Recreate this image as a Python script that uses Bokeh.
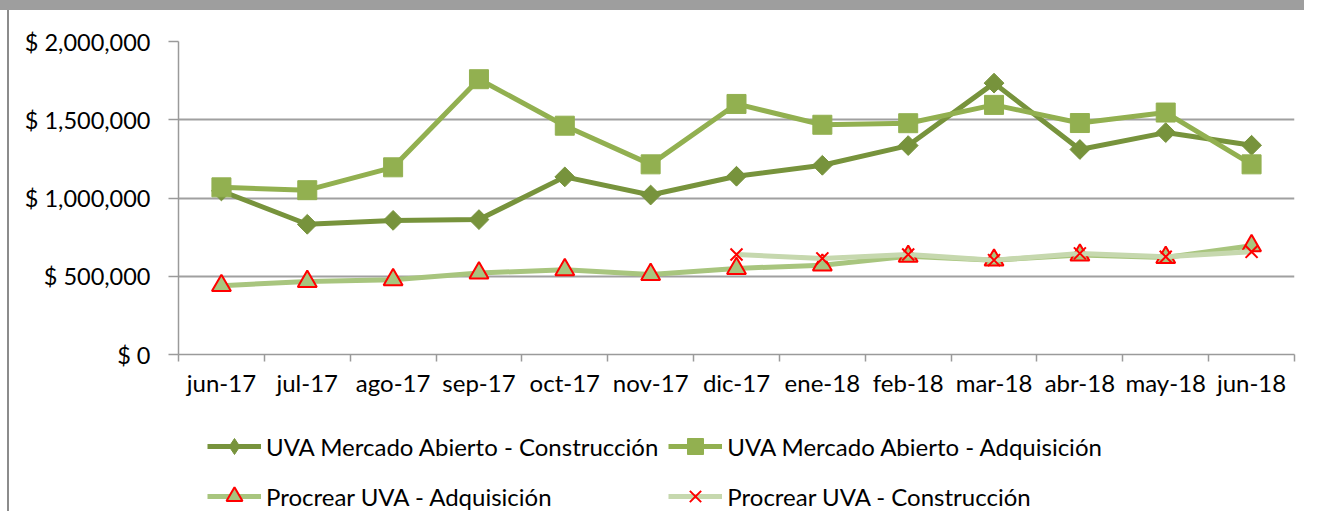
import numpy as np
from bokeh.plotting import figure
from bokeh.layouts import column, row
from bokeh.models import (ColumnDataSource, FixedTicker, Range1d, Legend, LegendItem,
                          Spacer)
from bokeh.embed import file_html
from bokeh.resources import INLINE

# ---- data ----
months = ["jun-17", "jul-17", "ago-17", "sep-17", "oct-17", "nov-17", "dic-17",
          "ene-18", "feb-18", "mar-18", "abr-18", "may-18", "jun-18"]
mercado_construccion = [1045000, 832000, 857000, 862000, 1135000, 1019000, 1139000,
                        1209000, 1335000, 1734000, 1310000, 1418000, 1337000]
mercado_adquisicion = [1068000, 1050000, 1196000, 1759000, 1462000, 1215000, 1601000,
                       1468000, 1478000, 1595000, 1479000, 1546000, 1215000]
procrear_adquisicion = [440000, 467000, 478000, 521000, 541000, 511000, 550000,
                        571000, 627000, 603000, 635000, 620000, 695000]
procrear_construccion = [np.nan, np.nan, np.nan, np.nan, np.nan, np.nan, 639000,
                         614000, 639000, 603000, 646000, 625000, 656000]
series_names = ["UVA Mercado Abierto - Construcción",
                "UVA Mercado Abierto - Adquisición",
                "Procrear UVA - Adquisición",
                "Procrear UVA - Construcción"]
y_ticks = [0, 500000, 1000000, 1500000, 2000000]
y_tick_labels = ["$ 0", "$ 500,000", "$ 1,000,000", "$ 1,500,000", "$ 2,000,000"]

x = list(range(len(months)))
src = ColumnDataSource(dict(
    x=x,
    mc=mercado_construccion,
    ma=mercado_adquisicion,
    pa=procrear_adquisicion,
    pc=np.array(procrear_construccion, dtype=float),
))

FONT = "Lato"
FS = "24px"

c_mc = "#77933C"
c_ma = "#92B050"
c_pa = "#A8C57E"
c_pc = "#C6D8AE"
RED = "#FF0000"


def add_series(fig, legend_style=False):
    l1 = fig.line("x", "mc", source=src, line_color=c_mc, line_width=5)
    if legend_style:
        s1 = fig.scatter("x", "mc", source=src, marker="diamond", size=20,
                         fill_color=c_mc, line_color=c_mc)
    else:
        s1 = fig.scatter("x", "mc", source=src, marker="square", angle=np.pi / 4,
                         size=14, fill_color=c_mc, line_color=c_mc)
    l2 = fig.line("x", "ma", source=src, line_color=c_ma, line_width=5)
    s2 = fig.scatter("x", "ma", source=src, marker="square", size=19,
                     fill_color=c_ma, line_color=c_ma)
    l3 = fig.line("x", "pa", source=src, line_color=c_pa, line_width=5)
    s3 = fig.scatter("x", "pa", source=src, marker="triangle", size=19,
                     fill_color=c_pa, line_color=RED, line_width=2)
    l4 = fig.line("x", "pc", source=src, line_color=c_pc, line_width=5)
    s4 = fig.scatter("x", "pc", source=src, marker="x", size=17,
                     line_color=RED, line_width=2)
    return [(l1, s1), (l2, s2), (l3, s3), (l4, s4)]


W = 1295
MAIN_H = 389
p = figure(width=W, height=MAIN_H, output_backend="svg", toolbar_location=None,
           x_range=Range1d(-0.5, len(months) - 0.5), y_range=Range1d(0, 2000000),
           min_border_left=169, min_border_right=10, min_border_top=31,
           min_border_bottom=42)
p.outline_line_color = None
p.background_fill_color = "white"
p.border_fill_color = "white"

p.xaxis.ticker = FixedTicker(ticks=x, minor_ticks=[i - 0.5 for i in range(len(months) + 1)])
p.xaxis.major_label_overrides = {i: m for i, m in enumerate(months)}
p.xaxis.major_tick_out = 0
p.xaxis.major_tick_in = 0
p.xaxis.minor_tick_out = 7
p.xaxis.minor_tick_in = 0
p.xaxis.minor_tick_line_color = "#9a9a9a"
p.xaxis.minor_tick_line_width = 1.5
p.xaxis.major_label_standoff = 6

p.yaxis.ticker = FixedTicker(ticks=y_ticks, minor_ticks=[])
p.yaxis.major_label_overrides = dict(zip(y_ticks, y_tick_labels))
p.yaxis.major_tick_out = 10
p.yaxis.major_tick_in = 0
p.yaxis.major_tick_line_color = "#9a9a9a"
p.yaxis.major_tick_line_width = 1.5
p.yaxis.minor_tick_out = 0
p.yaxis.major_label_standoff = 18

for ax in (p.xaxis, p.yaxis):
    ax.axis_line_color = "#9a9a9a"
    ax.axis_line_width = 1.5
    ax.major_label_text_font = FONT
    ax.major_label_text_font_size = FS
    ax.major_label_text_color = "black"
p.yaxis.major_label_text_font_size = "23.5px"

p.xgrid.grid_line_color = None
p.ygrid.ticker = FixedTicker(ticks=y_ticks)
p.ygrid.grid_line_color = "#a0a0a0"
p.ygrid.grid_line_width = 2

add_series(p)

# ---- legend panel (separate figure so the legend is not clipped) ----
LH = 112
lg = figure(width=W, height=LH, output_backend="svg", toolbar_location=None,
            x_range=Range1d(1000, 1001), y_range=Range1d(1000, 1001),
            min_border=0)
lg.axis.visible = False
lg.grid.visible = False
lg.outline_line_color = None
lg.border_fill_color = "white"
pairs = add_series(lg, legend_style=True)
items = [LegendItem(label=n, renderers=list(r)) for n, r in zip(series_names, pairs)]

legend = Legend(items=[items[0], items[2], items[1], items[3]],
                ncols=2, location=(29, -5))
legend.padding = 0
legend.margin = 0
legend.spacing = 10
legend.glyph_width = 54
legend.glyph_height = 40
legend.label_height = 40
legend.label_standoff = 5
legend.border_line_color = None
legend.background_fill_alpha = 0
legend.label_text_font = FONT
legend.label_text_font_size = FS
legend.label_text_color = "black"
lg.add_layout(legend, "center")

top_band = Spacer(width=W + 9, height=10, styles={"background-color": "#9e9e9e"})
left_gap = Spacer(width=7, height=MAIN_H + LH)
left_border = Spacer(width=2, height=MAIN_H + LH, styles={"background-color": "#8c8c8c"})

layout = column(top_band,
                row(left_gap, left_border, column(p, lg, spacing=0), spacing=0),
                spacing=0)

open("out.html", "w").write(file_html(layout, INLINE))
